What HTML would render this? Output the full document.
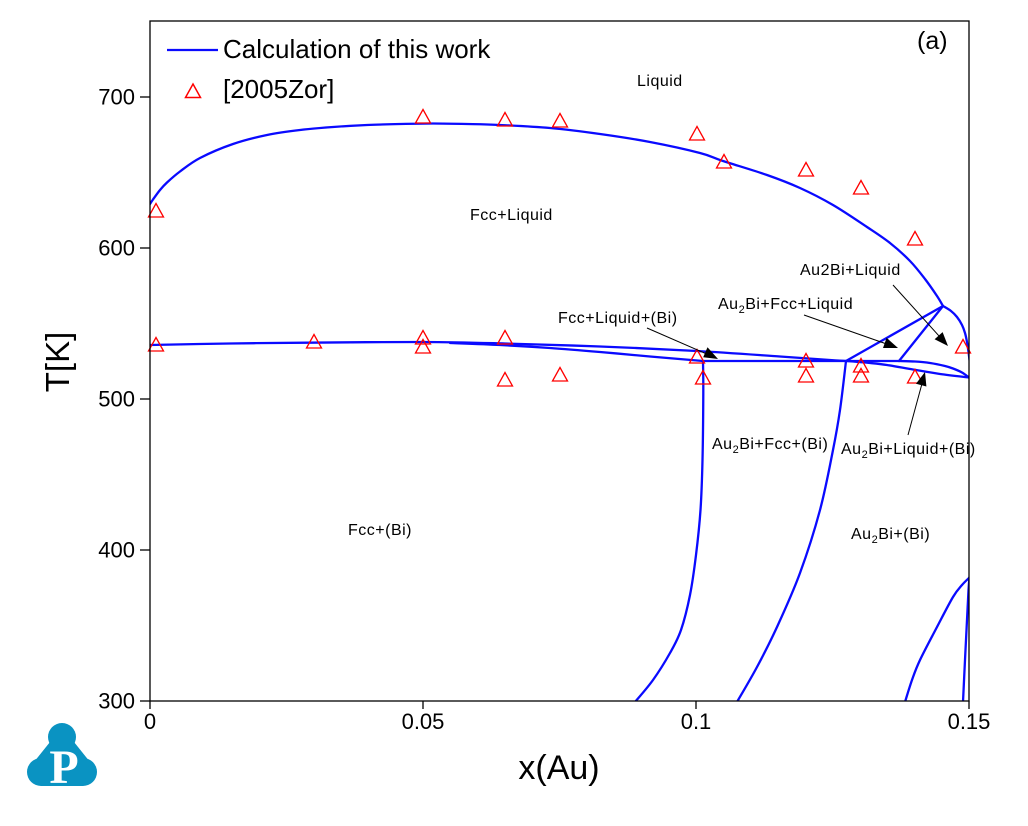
<!DOCTYPE html>
<html>
<head>
<meta charset="utf-8">
<style>
  html, body { margin: 0; padding: 0; background: #ffffff; }
  svg { display: block; }
  .lbl { font-family: "Liberation Sans", Arial, sans-serif; font-size: 16px; letter-spacing: 0.5px; fill: #000; }
  .tick { font-family: "Liberation Sans", Arial, sans-serif; font-size: 22px; fill: #000; }
</style>
</head>
<body>
<svg id="chart" width="1028" height="826" viewBox="0 0 1028 826" xmlns="http://www.w3.org/2000/svg">
  <defs>
    <clipPath id="plot">
      <rect x="150" y="21" width="819" height="680"/>
    </clipPath>
  </defs>
  <rect x="0" y="0" width="1028" height="826" fill="#ffffff"/>

  <!-- curves -->
  <g id="curves" clip-path="url(#plot)" fill="none" stroke="#0a0aff" stroke-width="2.3" stroke-linejoin="round" stroke-linecap="round">
    <!-- liquidus -->
    <polyline class="s" points="150,204 153,199.5 160,190 167,182.5 180,171.5 200,158 233,144 267,135 300,130 333,127 367,125 400,124 433,123.5 467,124 500,125 550,128 600,134 650,142 700,153 723,161 767,175 800,188 833,205 867,227 890,243 910,261 925,279 937,296 943,306"/>
    <polyline class="s" points="943,306 951,311 957,317 962,325 965,333 967,342 968.5,352 969.5,360"/>
    <!-- line A -->
    <polyline class="s" points="150,345 230,343.5 307,342.7 423,342 505,343.5 600,346.5 697,351 780,356.5 830,360 846,361 870,363 887,365 913,369.5 940,374 969,377.5"/>
    <!-- line B -->
    <polyline class="s" points="450,343 500,345 550,348 600,352 650,356.5 703,361"/>
    <!-- horizontal -->
    <line x1="703" y1="361" x2="899" y2="361"/>
    <!-- line C -->
    <polyline class="s" points="899,361 915,361.5 930,363 945,366 953,368.5 962,372.5 969,377.5"/>
    <!-- peritectic triangle -->
    <line x1="846" y1="361" x2="943" y2="306"/>
    <line x1="899" y1="361" x2="943" y2="306"/>
    <!-- vertical curves -->
    <polyline class="s" points="703,361 703.3,393 702.5,460 700.5,510 696,555 690,595 681,630 670,653 653,680 635,702"/>
    <polyline class="s" points="846,361 840,410 833,450 820,510 800,573 777,627 757,667 737,702"/>
    <polyline class="s" points="905,702 912,680 920,660 937,627 953,597 962,585 970,577"/>
    <polyline class="s" points="963,702 965,660 967,620 968.5,590 969.5,577"/>
  </g>

  <!-- data triangles -->
  <g fill="none" stroke="#ff0000" stroke-width="1.3" stroke-linejoin="miter">
    <path d="M156,203.5 l7.5,13.5 h-15 z"/>
    <path d="M156,337.5 l7.5,13.5 h-15 z"/>
    <path d="M314,334.5 l7.5,13.5 h-15 z"/>
    <path d="M423,109.5 l7.5,13.5 h-15 z"/>
    <path d="M423,330.5 l7.5,13.5 h-15 z"/>
    <path d="M423,339.5 l7.5,13.5 h-15 z"/>
    <path d="M505,112.5 l7.5,13.5 h-15 z"/>
    <path d="M505,330.5 l7.5,13.5 h-15 z"/>
    <path d="M505,372.5 l7.5,13.5 h-15 z"/>
    <path d="M560,113.5 l7.5,13.5 h-15 z"/>
    <path d="M560,367.5 l7.5,13.5 h-15 z"/>
    <path d="M697,126.5 l7.5,13.5 h-15 z"/>
    <path d="M697,349.5 l7.5,13.5 h-15 z"/>
    <path d="M703,370.5 l7.5,13.5 h-15 z"/>
    <path d="M724,154.5 l7.5,13.5 h-15 z"/>
    <path d="M806,162.5 l7.5,13.5 h-15 z"/>
    <path d="M806,353.5 l7.5,13.5 h-15 z"/>
    <path d="M806,368.5 l7.5,13.5 h-15 z"/>
    <path d="M861,180.5 l7.5,13.5 h-15 z"/>
    <path d="M861,358.5 l7.5,13.5 h-15 z"/>
    <path d="M861,368.5 l7.5,13.5 h-15 z"/>
    <path d="M915,231.5 l7.5,13.5 h-15 z"/>
    <path d="M915,369.5 l7.5,13.5 h-15 z"/>
    <path d="M963,339.5 l7.5,13.5 h-15 z"/>
  </g>

  <!-- frame -->
  <rect x="150" y="21" width="819" height="680" fill="none" stroke="#000" stroke-width="1.3"/>

  <!-- ticks -->
  <g stroke="#000" stroke-width="1.3">
    <line x1="140" y1="701" x2="150" y2="701"/>
    <line x1="140" y1="550" x2="150" y2="550"/>
    <line x1="140" y1="399" x2="150" y2="399"/>
    <line x1="140" y1="248" x2="150" y2="248"/>
    <line x1="140" y1="97" x2="150" y2="97"/>
    <line x1="150" y1="701" x2="150" y2="709"/>
    <line x1="423" y1="701" x2="423" y2="709"/>
    <line x1="696" y1="701" x2="696" y2="709"/>
    <line x1="969" y1="701" x2="969" y2="709"/>
  </g>

  <!-- tick labels -->
  <g class="tick" text-anchor="end">
    <text x="135" y="708.5">300</text>
    <text x="135" y="557.5">400</text>
    <text x="135" y="406.5">500</text>
    <text x="135" y="255.5">600</text>
    <text x="135" y="104.5">700</text>
  </g>
  <g class="tick" text-anchor="middle">
    <text x="150" y="729">0</text>
    <text x="423" y="729">0.05</text>
    <text x="696" y="729">0.1</text>
    <text x="969" y="729">0.15</text>
  </g>

  <!-- axis titles -->
  <text x="559" y="779" text-anchor="middle" font-family="Liberation Sans, Arial, sans-serif" font-size="34">x(Au)</text>
  <text transform="translate(69,362) rotate(-90)" x="0" y="0" text-anchor="middle" font-family="Liberation Sans, Arial, sans-serif" font-size="33">T[K]</text>

  <!-- legend -->
  <line x1="167" y1="50" x2="218" y2="50" stroke="#0a0aff" stroke-width="2.3"/>
  <text x="223" y="58" font-family="Liberation Sans, Arial, sans-serif" font-size="26">Calculation of this work</text>
  <path d="M193,84 l7.5,13.5 h-15 z" fill="none" stroke="#ff0000" stroke-width="1.5"/>
  <text x="223" y="98" font-family="Liberation Sans, Arial, sans-serif" font-size="26">[2005Zor]</text>
  <text x="917" y="49" font-family="Liberation Sans, Arial, sans-serif" font-size="25">(a)</text>

  <!-- region labels -->
  <text class="lbl" x="637" y="86">Liquid</text>
  <text class="lbl" x="470" y="220">Fcc+Liquid</text>
  <text class="lbl" x="800" y="275">Au2Bi+Liquid</text>
  <text class="lbl" x="718" y="309">Au<tspan font-size="11" dy="4">2</tspan><tspan dy="-4">Bi+Fcc+Liquid</tspan></text>
  <text class="lbl" x="558" y="323">Fcc+Liquid+(Bi)</text>
  <text class="lbl" x="712" y="449">Au<tspan font-size="11" dy="4">2</tspan><tspan dy="-4">Bi+Fcc+(Bi)</tspan></text>
  <text class="lbl" x="841" y="454">Au<tspan font-size="11" dy="4">2</tspan><tspan dy="-4">Bi+Liquid+(Bi)</tspan></text>
  <text class="lbl" x="851" y="539">Au<tspan font-size="11" dy="4">2</tspan><tspan dy="-4">Bi+(Bi)</tspan></text>
  <text class="lbl" x="348" y="535">Fcc+(Bi)</text>

  <!-- arrows -->
  <g stroke="#000" stroke-width="1" fill="none">
    <line x1="647" y1="328" x2="708" y2="354.6"/>
    <line x1="804" y1="315" x2="887" y2="344.1"/>
    <line x1="893" y1="285" x2="940" y2="337.1"/>
    <line x1="908" y1="435" x2="922" y2="383.6"/>
  </g>
  <g fill="#000">
    <polygon points="718,359 703.2,357.2 707.5,347.3"/>
    <polygon points="898,348 883.0,348.0 886.6,337.8"/>
    <polygon points="948,346 934.6,339.3 942.6,332.1"/>
    <polygon points="925,372 926.4,386.5 916.0,383.7"/>
  </g>

  <!-- logo -->
  <g fill="#0a93c2">
    <circle cx="62" cy="737" r="14"/>
    <circle cx="41" cy="772" r="14"/>
    <circle cx="83" cy="772" r="14"/>
    <polygon points="50,742 74,742 90,762 83,786 41,786 34,762"/>
  </g>
  <text x="64" y="783" text-anchor="middle" font-family="Liberation Serif, 'Times New Roman', serif" font-weight="bold" font-size="48" fill="#ffffff">P</text>
</svg>
<script>
(function(){
  var ns = "http://www.w3.org/2000/svg";
  var pls = document.querySelectorAll('polyline.s');
  for (var k = 0; k < pls.length; k++) {
    var pl = pls[k];
    var pts = pl.getAttribute('points').trim().split(/\s+/).map(function(p){ return p.split(',').map(Number); });
    var d = 'M' + pts[0][0] + ',' + pts[0][1];
    for (var i = 0; i < pts.length - 1; i++) {
      var p0 = pts[i-1] || pts[i], p1 = pts[i], p2 = pts[i+1], p3 = pts[i+2] || p2;
      var c1x = p1[0] + (p2[0]-p0[0])/6, c1y = p1[1] + (p2[1]-p0[1])/6;
      var c2x = p2[0] - (p3[0]-p1[0])/6, c2y = p2[1] - (p3[1]-p1[1])/6;
      d += ' C' + c1x.toFixed(2) + ',' + c1y.toFixed(2) + ' ' + c2x.toFixed(2) + ',' + c2y.toFixed(2) + ' ' + p2[0] + ',' + p2[1];
    }
    var path = document.createElementNS(ns, 'path');
    path.setAttribute('d', d);
    pl.parentNode.replaceChild(path, pl);
  }
})();
</script>
</body>
</html>
